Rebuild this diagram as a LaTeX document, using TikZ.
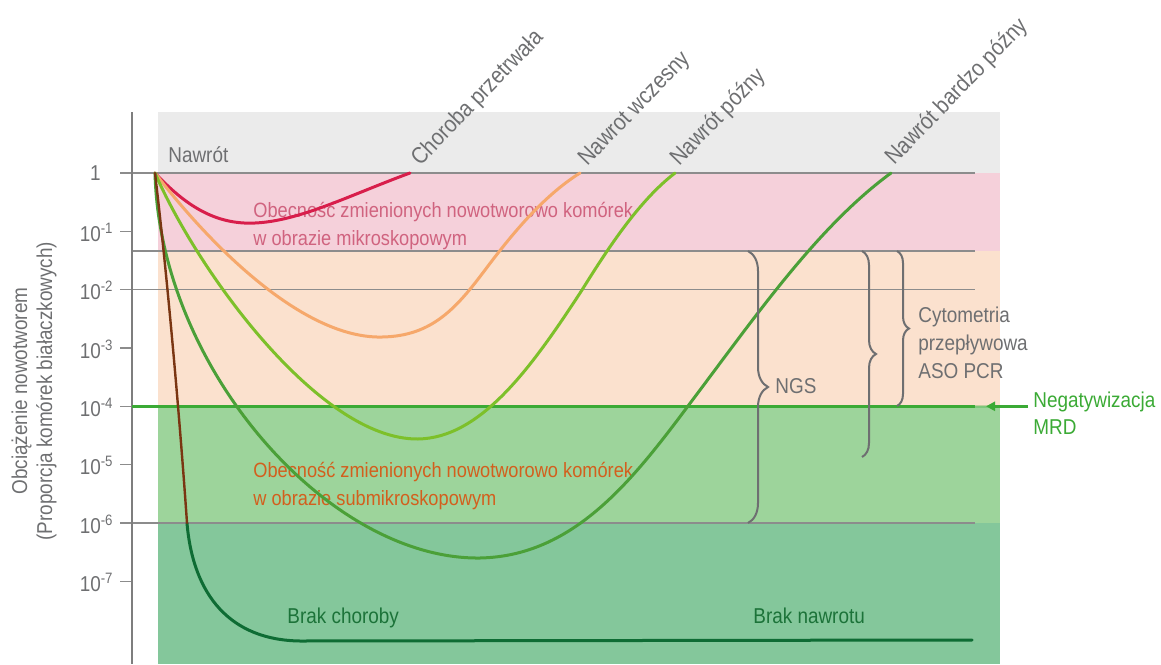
\documentclass[tikz,border=0pt]{standalone}
\usepackage{fontspec}
\setmainfont[FakeStretch=0.88]{Liberation Sans}
\usetikzlibrary{decorations.pathreplacing,arrows.meta}
\definecolor{bandgray}{HTML}{EBEBEB}
\definecolor{bandpink}{HTML}{F5D0DA}
\definecolor{bandpeach}{HTML}{FBE1CE}
\definecolor{bandlgreen}{HTML}{9DD49B}
\definecolor{banddgreen}{HTML}{84C79B}
\definecolor{txtgray}{HTML}{6E6F71}
\definecolor{gridgray}{HTML}{8C8C8C}
\definecolor{pinktxt}{HTML}{D0637F}
\definecolor{orangetxt}{HTML}{D35F1D}
\definecolor{mrdgreen}{HTML}{3BAA35}
\definecolor{braktxt}{HTML}{1C7339}
\definecolor{cred}{HTML}{D81E4B}
\definecolor{corange}{HTML}{F6A86B}
\definecolor{clime}{HTML}{7DC02A}
\definecolor{cmid}{HTML}{4BA038}
\definecolor{cbrown}{HTML}{7A3512}
\definecolor{cdark}{HTML}{0E6C34}
\begin{document}
\begin{tikzpicture}[x=0.5pt,y=-0.5pt,
  font=\fontsize{10.75}{14}\selectfont,
  lbl/.style={inner sep=0pt, text=txtgray, anchor=base west},
  rotlbl/.style={lbl, rotate=46, font=\fontsize{11.6}{14}\selectfont},
  regtxt/.style={lbl, font=\fontsize{10.35}{14}\selectfont},
  ticklbl/.style={inner sep=0pt, text=txtgray, anchor=base east},
  gridline/.style={draw=gridgray, line width=0.75pt},
  axisline/.style={draw=gridgray!90!black, line width=1pt},
  mrdline/.style={draw=mrdgreen, line width=1.5pt},
  curve/.style={line width=1.5pt, line cap=round},
  bracestyle/.style={draw=txtgray, line width=1pt, decorate, decoration={brace, amplitude=#1}},
]
\useasboundingbox (0,0) rectangle (1161,664);
% bands
\fill[bandgray] (158,112) rectangle (1000,173);
\fill[bandpink] (158,173) rectangle (1000,251);
\fill[bandpeach] (158,251) rectangle (1000,406);
\fill[bandlgreen] (158,406) rectangle (1000,523);
\fill[banddgreen] (158,523) rectangle (1000,664);
% grid lines
\draw[gridline] (120,173) -- (975,173);
\draw[gridline] (132,251) -- (975,251);
\draw[gridline] (120,289.7) -- (975,289.7);
\draw[gridline] (120,523) -- (975,523);
\foreach \k in {1,...,7} \draw[gridline] (120,173+58.333*\k) -- (132,173+58.333*\k);
\draw[axisline] (132,112) -- (132,664);
% tick labels
\node[ticklbl] (t0) at (101,180.5) {1};
\foreach \k in {1,...,7} \node[ticklbl] (t\k) at (114,183+58.333*\k) {10\textsuperscript{-\k}};
% MRD line
\draw[mrdline] (132,406.3) -- (975,406.3);
\draw[mrdline, opacity=0.3] (975,406.3) -- (990,406.3);
\coordinate (mrdtail) at (1028,406.3);
\coordinate (mrdtip) at (986,406.3);
\draw[mrdline, -{Triangle[length=4.5pt,width=4.5pt]}] (mrdtail) -- (mrdtip);
\node[lbl, text=mrdgreen] (mrd1) at (1033,407) {Negatywizacja};
\node[lbl, text=mrdgreen] (mrd2) at (1033,434) {MRD};
% region texts
\node[regtxt, text=pinktxt] (pk1) at (253,217) {Obecność zmienionych nowotworowo komórek};
\node[regtxt, text=pinktxt] (pk2) at (253,245) {w obrazie mikroskopowym};
\node[regtxt, text=orangetxt] (or1) at (253,477) {Obecność zmienionych nowotworowo komórek};
\node[regtxt, text=orangetxt] (or2) at (253,505) {w obrazie submikroskopowym};
% curves
\draw[curve, cred] (155,173) .. controls (185,205) and (215,225) .. (255,223) .. controls (300,221) and (350,195) .. (410,173);
\draw[curve, corange] (155,173) .. controls (210,245) and (300,335) .. (377,337) .. controls (430,338) and (455,310) .. (485,270) .. controls (515,230) and (545,195) .. (580,173);
\draw[curve, clime] (155,173) .. controls (198,272) and (320,440) .. (418,439) .. controls (480,438) and (530,370) .. (582,290) .. controls (610,245) and (640,200) .. (675,173);
\draw[curve, cmid] (155,173) .. controls (160,370) and (330,560) .. (480,558) .. controls (580,556) and (640,470) .. (700,390) .. controls (760,310) and (820,225) .. (891,173);
\draw[curve, cdark] (187,523) .. controls (193,595) and (230,640) .. (300,641) -- (972,640);
\draw[curve, cbrown, line width=1.2pt] (155,173) .. controls (170,300) and (182,450) .. (187,523);
% braces
\draw[bracestyle=10pt] (748,251) -- (748,523);
\draw[bracestyle=7pt] (862,251) -- (862,457);
\draw[bracestyle=6pt] (897,251) -- (897,406);
\node[lbl] (ngs) at (775,393) {NGS};
\node[lbl] (cy1) at (918,322) {Cytometria};
\node[lbl] (cy2) at (918,350) {przepływowa};
\node[lbl] (cy3) at (918,378) {ASO PCR};
% labels
\node[lbl] (nawrot) at (168,162) {Nawrót};
\node[rotlbl] (lchor) at (420,167) {Choroba przetrwała};
\node[rotlbl] (lwcz) at (587,167) {Nawrot wczesny};
\node[rotlbl] (lpoz) at (679,167) {Nawrót późny};
\node[rotlbl] (lbpoz) at (894,166) {Nawrót bardzo późny};
\node[lbl, text=braktxt] (brch) at (287,623) {Brak choroby};
\node[lbl, text=braktxt] (brnw) at (753,623) {Brak nawrotu};
% y axis label
\node[inner sep=0pt, text=txtgray, anchor=base, rotate=90] (y1) at (27,391) {Obciążenie nowotworem};
\node[inner sep=0pt, text=txtgray, anchor=base, rotate=90] (y2) at (52,391) {(Proporcja komórek białaczkowych)};
\end{tikzpicture}
\end{document}
